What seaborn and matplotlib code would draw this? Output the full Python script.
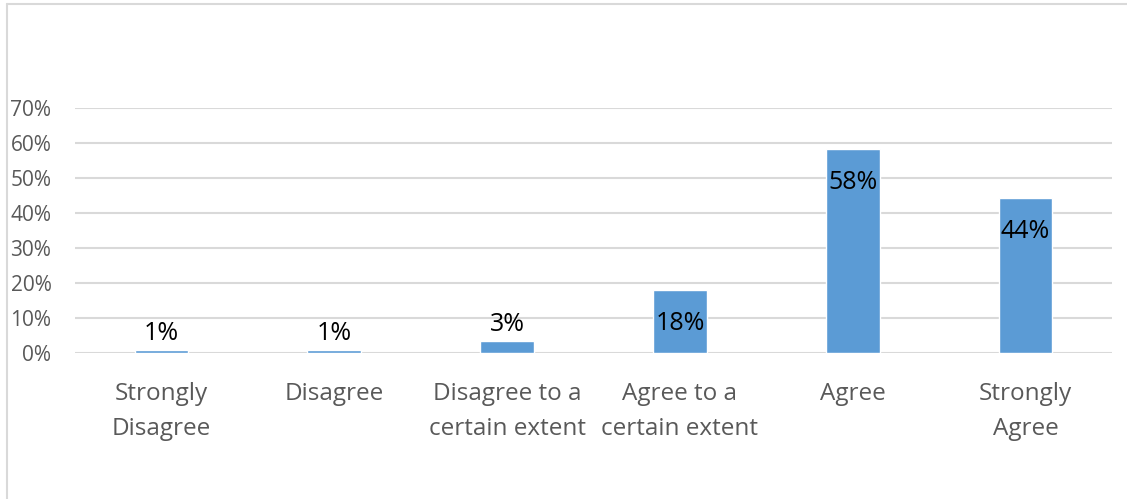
import matplotlib
matplotlib.use("Agg")
import matplotlib.pyplot as plt
import seaborn as sns
import pandas as pd
from matplotlib.lines import Line2D
from matplotlib.ticker import PercentFormatter

categories = ["Strongly\nDisagree", "Disagree", "Disagree to a\ncertain extent",
              "Agree to a\ncertain extent", "Agree", "Strongly\nAgree"]
values = [0.008, 0.008, 0.034, 0.18, 0.582, 0.443]
labels = ["1%", "1%", "3%", "18%", "58%", "44%"]
yticks = [0, 0.1, 0.2, 0.3, 0.4, 0.5, 0.6, 0.7]

sns.set_theme(style="white")
plt.rcParams['font.family'] = ['Open Sans', 'DejaVu Sans']

fig = plt.figure(figsize=(11.27, 4.99), dpi=100)
W, H = 1127, 499
ax = fig.add_axes([75 / W, 1 - 353.3 / H, (1112 - 75) / W, (353.3 - 108) / H])

df = pd.DataFrame({"cat": categories, "val": values})
sns.barplot(data=df, x="cat", y="val", color="#5B9BD5", saturation=1,
            width=0.31, ax=ax, zorder=3)

ax.set_ylim(0, 0.7)
ax.set_yticks(yticks)
ax.yaxis.set_major_formatter(PercentFormatter(1.0, decimals=0))
ax.grid(axis="y", color="#D9D9D9", linewidth=1.5, zorder=0)
ax.set_axisbelow(True)
for s in ax.spines.values():
    s.set_visible(False)
ax.set_xlabel("")
ax.set_ylabel("")
ax.tick_params(axis="y", labelsize=15, colors="#595959", length=0, pad=17)
ax.tick_params(axis="x", labelsize=17.5, colors="#595959", length=0, pad=21)
for t in ax.get_xticklabels():
    t.set_linespacing(1.6)

for i, (v, lab) in enumerate(zip(values, labels)):
    if v > 0.1:
        ax.annotate(lab, (i, v), xytext=(0, -24), textcoords="offset points",
                    ha="center", va="center", fontsize=18, color="black")
    else:
        ax.annotate(lab, (i, v), xytext=(0, 12), textcoords="offset points",
                    ha="center", va="center", fontsize=18, color="black")

fig.add_artist(Line2D([7 / W, 7 / W], [0, 1 - 4 / H], transform=fig.transFigure,
                      color="#D9D9D9", linewidth=1.5))
fig.add_artist(Line2D([7 / W, 1], [1 - 4 / H, 1 - 4 / H], transform=fig.transFigure,
                      color="#D9D9D9", linewidth=1.5))

fig.savefig("out.png", dpi=100)
